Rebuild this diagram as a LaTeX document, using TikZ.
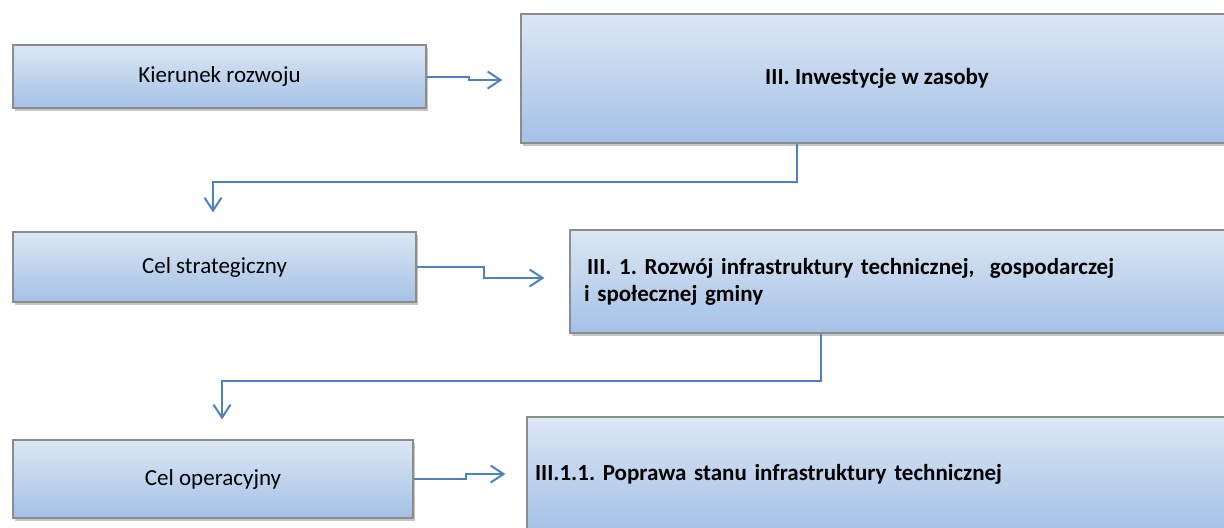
\documentclass[tikz,border=0pt]{standalone}
\usepackage{fontspec}
\setmainfont{Carlito}
\usetikzlibrary{arrows.meta,shadows,calc}
\definecolor{boxtop}{HTML}{DCE7F4}
\definecolor{boxbot}{HTML}{A3C1E6}
\definecolor{lnk}{HTML}{4F81BD}
\frenchspacing

\begin{document}
\begin{tikzpicture}
      [x=0.5pt,y=-0.5pt
      ,box/.style={draw=black!45,line width=0.6pt,top color=boxtop,bottom color=boxbot
                  ,drop shadow={shadow xshift=1pt,shadow yshift=-1.5pt,opacity=.45}
                  ,inner sep=0pt,font=\fontsize{11.5}{13.5}\selectfont}
      ,goal/.style={box,font=\fontsize{11.5}{13.5}\selectfont\bfseries}
      ,con/.style={draw=lnk,line width=1pt,-{Straight Barb[length=6.5pt,width=8.5pt]}}
      ]
        \useasboundingbox (0,0) rectangle (1224,527);
        \clip (0,0) rectangle (1224,527);

        \node[box,minimum width=206.5pt,minimum height=31.5pt] (k) at (219.5,76.5) {Kierunek rozwoju};
        \node[goal,minimum width=356pt,minimum height=64.5pt] (i) at (877,78.5) {III. Inwestycje w zasoby};
        \node[box,minimum width=201.5pt,minimum height=35pt] (s) at (214.5,267) {Cel strategiczny};
        \node[goal,minimum width=335pt,minimum height=51.5pt,inner xsep=7pt,text width=321pt,align=left] (r) at (905,281.5)
          {\hspace{1.5pt}III. 1. Rozwój infrastruktury technicznej,\ \ gospodarczej\\i społecznej gminy};
        \node[box,minimum width=200pt,minimum height=39pt] (o) at (213,479) {Cel operacyjny};
        \node[goal,minimum width=356.5pt,minimum height=57pt,inner xsep=4pt,text width=348.5pt,align=left] (p) at (883.5,474)
          {III.1.1. Poprawa stanu infrastruktury technicznej};

        \draw[con] (k.east) -- ++(42,0) |- ($(i.west)+(-18,1.5)$);
        \draw[con] ($(i.south west)+(277,0)$) -- ++(0,38) -| ($(s.north)+(-1.5,-19)$);
        \draw[con] (s.east) -- ++(67,0) |- ($(r.west)+(-25,-3.5)$);
        \draw[con] ($(r.south west)+(252,0)$) -- ++(0,47) -| ($(o.north)+(9,-20)$);
        \draw[con] (o.east) -- ++(52,0) |- ($(p.west)+(-21,0)$);

      \end{tikzpicture}
\end{document}
